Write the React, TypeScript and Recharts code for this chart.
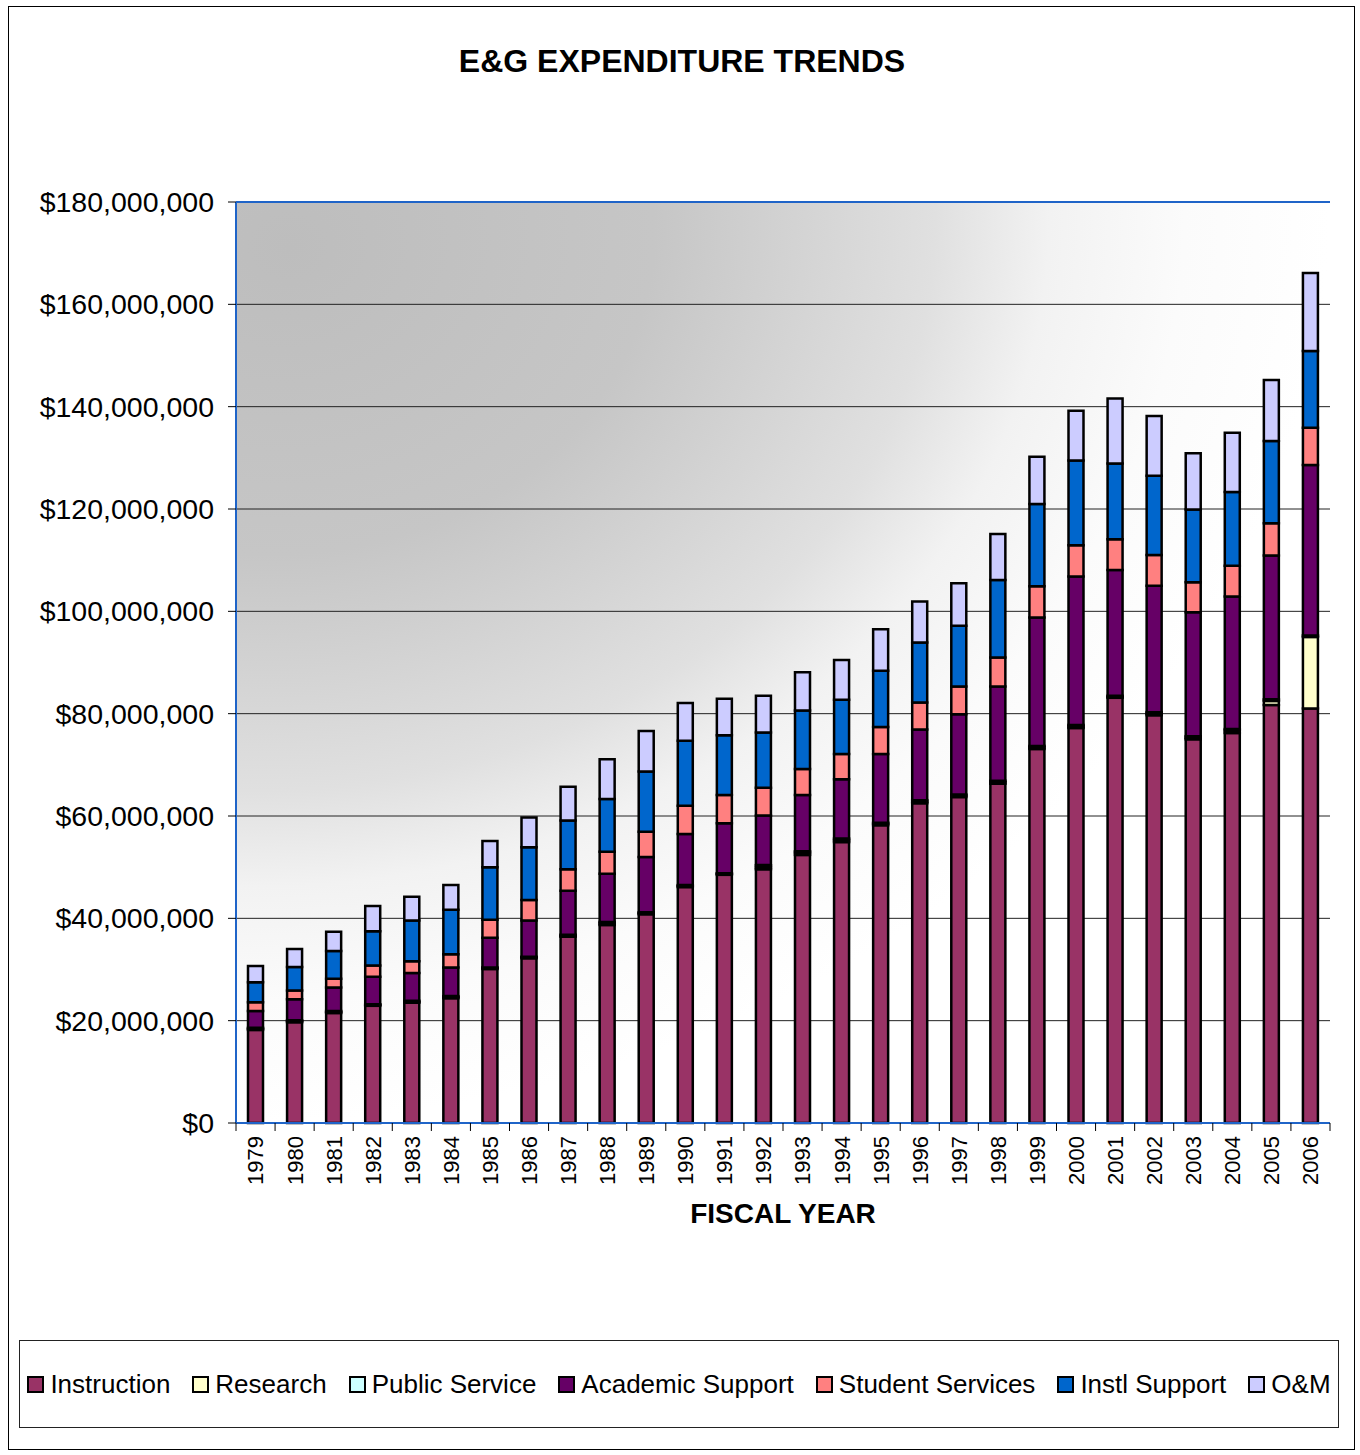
import { Bar, BarChart, CartesianGrid, XAxis, YAxis, ReferenceLine } from "recharts"

// values in millions of dollars, fiscal years 1979-2006
const years = [
  "1979", "1980", "1981", "1982", "1983", "1984", "1985", "1986", "1987", "1988",
  "1989", "1990", "1991", "1992", "1993", "1994", "1995", "1996", "1997", "1998",
  "1999", "2000", "2001", "2002", "2003", "2004", "2005", "2006",
]
const instruction = [
  18.2, 19.7, 21.5, 22.9, 23.5, 24.4, 30.1, 32.2, 36.4, 38.7,
  40.8, 46.1, 48.5, 49.6, 52.4, 54.9, 58.2, 62.5, 63.7, 66.3,
  73.1, 77.2, 83.1, 79.7, 75.0, 76.2, 81.7, 81.0,
]
const research = [
  0.2, 0.2, 0.2, 0.2, 0.2, 0.2, 0.2, 0.2, 0.2, 0.3,
  0.2, 0.2, 0.2, 0.4, 0.4, 0.4, 0.3, 0.3, 0.3, 0.3,
  0.3, 0.3, 0.2, 0.3, 0.3, 0.5, 0.8, 14.0,
]
const publicService = [
  0.2, 0.2, 0.2, 0.1, 0.2, 0.2, 0.1, 0.1, 0.2, 0.3,
  0.2, 0.2, 0.1, 0.4, 0.3, 0.3, 0.2, 0.3, 0.2, 0.3,
  0.3, 0.3, 0.2, 0.3, 0.3, 0.3, 0.3, 0.3,
]
const academicSupport = [
  3.3, 4.1, 4.6, 5.4, 5.4, 5.6, 5.8, 7.1, 8.6, 9.4,
  10.8, 10.0, 9.8, 9.7, 11.0, 11.6, 13.4, 13.8, 15.7, 18.4,
  25.1, 29.0, 24.6, 24.7, 24.2, 25.9, 28.1, 33.3,
]
const studentServices = [
  1.7, 1.7, 1.7, 2.2, 2.3, 2.6, 3.5, 4.0, 4.2, 4.3,
  4.9, 5.5, 5.5, 5.4, 5.1, 4.9, 5.3, 5.3, 5.4, 5.7,
  6.1, 6.1, 6.0, 6.0, 5.9, 6.0, 6.3, 7.3,
]
const instlSupport = [
  3.9, 4.6, 5.4, 6.7, 8.0, 8.7, 10.3, 10.3, 9.5, 10.3,
  11.8, 12.7, 11.7, 10.8, 11.4, 10.6, 11.0, 11.7, 11.9, 15.1,
  16.1, 16.6, 14.8, 15.5, 14.2, 14.4, 16.1, 15.0,
]
const om = [
  3.2, 3.5, 3.8, 4.9, 4.6, 4.8, 5.1, 5.8, 6.6, 7.8,
  7.9, 7.4, 7.1, 7.2, 7.5, 7.8, 8.1, 8.0, 8.3, 9.0,
  9.2, 9.7, 12.7, 11.7, 11.0, 11.6, 11.9, 15.2,
]
const yTicks = [0, 20, 40, 60, 80, 100, 120, 140, 160, 180]

const series = [
  { key: "instruction", name: "Instruction", color: "#993366", values: instruction },
  { key: "research", name: "Research", color: "#FFFFCC", values: research },
  { key: "publicService", name: "Public Service", color: "#CCFFFF", values: publicService },
  { key: "academicSupport", name: "Academic Support", color: "#660066", values: academicSupport },
  { key: "studentServices", name: "Student Services", color: "#FF8080", values: studentServices },
  { key: "instlSupport", name: "Instl Support", color: "#0066CC", values: instlSupport },
  { key: "om", name: "O&M", color: "#CCCCFF", values: om },
]

const data = years.map((year, i) => {
  const row: Record<string, string | number> = { year }
  series.forEach((s) => {
    row[s.key] = s.values[i]
  })
  return row
})

const FONT = "Arial, 'Liberation Sans', sans-serif"
const PLOT_LEFT = 236
const PLOT_RIGHT = 1330
const PLOT_TOP = 202
const PLOT_BOTTOM = 1123
const BAND = (PLOT_RIGHT - PLOT_LEFT) / years.length
const BORDER_BLUE = "#1f64c8"

const money = (v: number) => "$" + (v * 1000000).toLocaleString("en-US")

function YearTick(props: any) {
  const { x, payload, index } = props
  const last = index === years.length - 1
  return (
    <g>
      <line x1={x - BAND / 2} x2={x - BAND / 2} y1={PLOT_BOTTOM} y2={PLOT_BOTTOM + 8} stroke="#000" />
      {last && <line x1={x + BAND / 2} x2={x + BAND / 2} y1={PLOT_BOTTOM} y2={PLOT_BOTTOM + 8} stroke="#000" />}
      <text
        transform={`translate(${x},${PLOT_BOTTOM + 13}) rotate(-90)`}
        textAnchor="end"
        dy="0.36em"
        fontSize={22}
        fontFamily={FONT}
        fill="#000"
      >
        {payload.value}
      </text>
    </g>
  )
}

function LegendBox() {
  return (
    <div
      style={{
        position: "absolute",
        left: 19,
        top: 1340,
        width: 1320,
        height: 88,
        boxSizing: "border-box",
        border: "1px solid #222",
        display: "flex",
        alignItems: "center",
        justifyContent: "center",
        gap: 22,
        fontFamily: FONT,
        fontSize: 26,
        color: "#000",
      }}
    >
      {series.map((s) => (
        <div key={s.key} style={{ display: "flex", alignItems: "center" }}>
          <span
            style={{
              width: 17,
              height: 17,
              boxSizing: "border-box",
              border: "2px solid #000",
              background: s.color,
              marginRight: 6,
            }}
          />
          <span>{s.name}</span>
        </div>
      ))}
    </div>
  )
}

export default function App() {
  return (
    <div style={{ position: "absolute", left: 0, top: 0, width: 1360, height: 1455, background: "#fff" }}>
      <div
        style={{
          position: "absolute",
          left: 8,
          top: 6,
          width: 1347,
          height: 1444,
          boxSizing: "border-box",
          border: "1px solid #000",
        }}
      />
      <div
        style={{
          position: "absolute",
          left: 0,
          top: 45,
          width: 1364,
          textAlign: "center",
          fontFamily: FONT,
          fontWeight: "bold",
          fontSize: 32,
          lineHeight: "32px",
        }}
      >
        E&amp;G EXPENDITURE TRENDS
      </div>
      <div style={{ position: "absolute", left: 0, top: 0 }}>
        <BarChart
          width={1360}
          height={1455}
          data={data}
          margin={{ top: PLOT_TOP, right: 1360 - PLOT_RIGHT, left: 0, bottom: 1455 - PLOT_BOTTOM - 80 }}
        >
          <defs>
            <radialGradient id="plotBg" cx="0" cy="0" r="1" fx="0.05" fy="0.05">
              <stop offset="0" stopColor="#bdbdbd" />
              <stop offset="0.35" stopColor="#c6c6c6" />
              <stop offset="0.62" stopColor="#e0e0e0" />
              <stop offset="0.73" stopColor="#f2f2f2" />
              <stop offset="0.86" stopColor="#fbfbfb" />
              <stop offset="1" stopColor="#ffffff" />
            </radialGradient>
          </defs>
          <CartesianGrid vertical={false} stroke="#222" strokeWidth={1} fill="url(#plotBg)" fillOpacity={1} />
          <XAxis
            dataKey="year"
            interval={0}
            height={80}
            tickLine={false}
            axisLine={{ stroke: BORDER_BLUE, strokeWidth: 2 }}
            tick={<YearTick />}
          />
          <YAxis
            width={PLOT_LEFT}
            domain={[0, 180]}
            ticks={yTicks}
            tickFormatter={money}
            tickSize={8}
            tickMargin={14}
            tickLine={{ stroke: "#000" }}
            axisLine={{ stroke: BORDER_BLUE, strokeWidth: 2 }}
            tick={{ fontSize: 28.5, fill: "#000", fontFamily: FONT }}
          />
          <YAxis
            yAxisId="right"
            orientation="right"
            width={0}
            domain={[0, 180]}
            tick={false}
            tickLine={false}
            axisLine={{ stroke: BORDER_BLUE, strokeWidth: 2 }}
          />
          <ReferenceLine y={180} stroke={BORDER_BLUE} strokeWidth={2} />
          {series.map((s) => (
            <Bar
              key={s.key}
              dataKey={s.key}
              name={s.name}
              stackId="a"
              fill={s.color}
              stroke="#000"
              strokeWidth={2.5}
              barSize={15}
              isAnimationActive={false}
            />
          ))}
        </BarChart>
      </div>
      <div
        style={{
          position: "absolute",
          left: PLOT_LEFT,
          top: 1200,
          width: PLOT_RIGHT - PLOT_LEFT,
          textAlign: "center",
          fontFamily: FONT,
          fontWeight: "bold",
          fontSize: 28,
          lineHeight: "28px",
        }}
      >
        FISCAL YEAR
      </div>
      <LegendBox />
    </div>
  )
}
